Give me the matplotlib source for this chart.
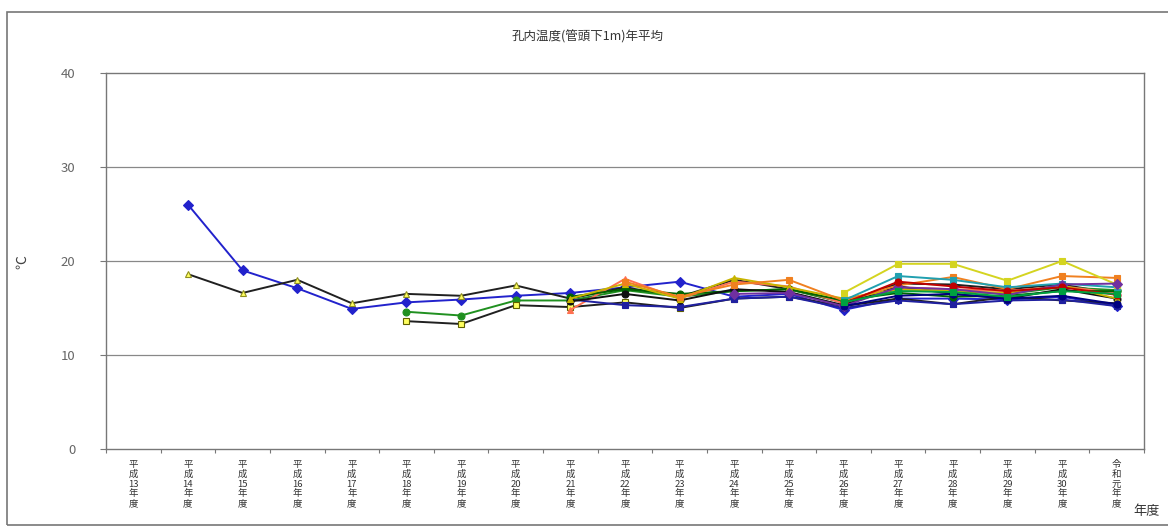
import numpy as np
import matplotlib
matplotlib.use("Agg")
import matplotlib.pyplot as plt
from matplotlib.patches import Rectangle

plt.rcParams['font.family'] = ['Noto Sans CJK JP', 'DejaVu Sans']

nan = np.nan
years = ["平成13年度", "平成14年度", "平成15年度", "平成16年度", "平成17年度",
         "平成18年度", "平成19年度", "平成20年度", "平成21年度", "平成22年度",
         "平成23年度", "平成24年度", "平成25年度", "平成26年度", "平成27年度",
         "平成28年度", "平成29年度", "平成30年度", "令和元年度"]

s01 = [nan, 26.0, 19.0, 17.1, 14.9, 15.6, 15.9, 16.3, 16.6, 17.2, 17.8, 16.2, 16.5, 14.8, 16.0, 16.0, 15.9, 16.2, 15.2]
s02 = [nan, 18.6, 16.6, 18.0, 15.5, 16.5, 16.3, 17.4, 16.0, 17.2, 16.2, 18.0, 17.0, 15.6, 17.6, 17.5, 17.0, 17.5, 16.5]
s03 = [nan, nan, nan, nan, nan, 14.6, 14.2, 15.8, 15.8, 16.9, 16.2, 16.8, 17.0, 15.6, 17.0, 16.8, 16.5, 17.2, 16.9]
s04 = [nan, nan, nan, nan, nan, 13.6, 13.3, 15.3, 15.1, 15.6, 15.0, 16.0, 16.2, 15.2, 16.0, 15.4, 16.2, 15.8, 15.5]
s05 = [nan, nan, nan, nan, nan, nan, nan, nan, 14.8, 18.1, 16.0, 17.8, 17.3, 15.5, 17.2, 17.0, 16.8, 17.3, 16.6]
s06 = [nan, nan, nan, nan, nan, nan, nan, nan, 15.9, 15.3, 15.1, 16.0, 16.2, 15.0, 15.8, 15.4, 15.8, 15.9, 15.2]
s07 = [nan, nan, nan, nan, nan, nan, nan, nan, 16.2, 17.0, 16.5, 16.8, 17.0, 15.8, 16.6, 16.2, 16.3, 16.8, 16.8]
s08 = [nan, nan, nan, nan, nan, nan, nan, nan, 15.7, 16.5, 15.8, 17.0, 16.7, 15.3, 17.3, 16.5, 16.0, 17.0, 16.0]
s09 = [nan, nan, nan, nan, nan, nan, nan, nan, 16.0, 17.6, 16.0, 18.2, 17.2, 16.0, 17.0, 16.8, 16.6, 17.4, 16.0]
s10 = [nan, nan, nan, nan, nan, nan, nan, nan, nan, 17.8, 16.2, 17.5, 18.0, 15.8, 17.4, 18.3, 17.0, 18.4, 18.2]
s11 = [nan, nan, nan, nan, nan, nan, nan, nan, nan, nan, nan, nan, nan, 15.8, 18.4, 18.0, 17.2, 17.6, 17.2]
s12 = [nan, nan, nan, nan, nan, nan, nan, nan, nan, nan, nan, nan, nan, 16.6, 19.7, 19.7, 17.9, 20.0, 17.5]
s13 = [nan, nan, nan, nan, nan, nan, nan, nan, nan, nan, nan, 16.5, 16.6, 15.2, 17.2, 17.0, 16.4, 17.5, 17.6]
s14 = [nan, nan, nan, nan, nan, nan, nan, nan, nan, nan, nan, nan, nan, 15.5, 17.8, 17.3, 16.8, 17.2, 16.4]
s15 = [nan, nan, nan, nan, nan, nan, nan, nan, nan, nan, nan, nan, nan, 15.2, 16.3, 16.5, 16.0, 16.3, 15.4]
s16 = [nan, nan, nan, nan, nan, nan, nan, nan, nan, nan, nan, nan, nan, 15.6, 16.8, 16.7, 16.2, 16.8, 16.5]

series = [
    (s01, '#2222CC', 'D', '#2222CC', '#2222CC'),
    (s02, '#202020', '^', '#FFFF60', '#909020'),
    (s03, '#209020', 'o', '#209020', '#209020'),
    (s04, '#202020', 's', '#FFFF60', '#606000'),
    (s05, '#FF7050', '^', '#FF7050', '#FF7050'),
    (s06, '#2020A0', 's', '#2020A0', '#2020A0'),
    (s07, '#006400', 'o', '#006400', '#006400'),
    (s08, '#101010', 'o', '#101010', '#101010'),
    (s09, '#C8B400', '^', '#C8B400', '#C8B400'),
    (s10, '#F08020', 's', '#F08020', '#F08020'),
    (s11, '#20A0B0', 's', '#20A0B0', '#20A0B0'),
    (s12, '#D4D420', 's', '#D4D420', '#D4D420'),
    (s13, '#7030A0', 'D', '#7030A0', '#7030A0'),
    (s14, '#C00000', 'o', '#C00000', '#C00000'),
    (s15, '#000080', 'o', '#000080', '#000080'),
    (s16, '#00A040', 's', '#00A040', '#00A040'),
]

fig = plt.figure(figsize=(11.68, 5.28), dpi=100)
ax = fig.add_axes([106/1168, 1-449/528, (1144-106)/1168, (449-73)/528])

x = np.arange(len(years))
for vals, lc, mk, mfc, mec in series:
    ax.plot(x, vals, color=lc, lw=1.4, marker=mk, markersize=5,
            markerfacecolor=mfc, markeredgecolor=mec, markeredgewidth=0.8)

ax.set_xlim(-0.5, len(years) - 0.5)
ax.set_ylim(0, 40)
ax.set_yticks([0, 10, 20, 30, 40])
ax.set_yticklabels(['0', '10', '20', '30', '40'], color='#666666', fontsize=9.5)
ax.tick_params(axis='y', length=4, color='#777777', pad=18)
for yv in [10, 20, 30]:
    ax.axhline(yv, color='#888888', lw=0.9, zorder=0)

ax.set_xticks(np.arange(len(years) + 1) - 0.5)
ax.set_xticklabels([])
ax.tick_params(axis='x', which='major', length=3, color='#777777')
ax.set_xticks(x, minor=True)
stacked = []
for y in years:
    if y.startswith('平成'):
        stacked.append('平\n成\n' + y[2:4] + '\n年\n度')
    else:
        stacked.append('\n'.join(list(y)))
ax.set_xticklabels(stacked, minor=True, fontsize=6.8, color='#333333', linespacing=1.1)
ax.tick_params(axis='x', which='minor', length=0, pad=8)

for sp in ax.spines.values():
    sp.set_color('#777777')
    sp.set_linewidth(1.0)

fig.text(588/1168, 1-37/528, '孔内温度(管頭下1m)年平均', ha='center', va='center', fontsize=9, color='#333333')
fig.text(22/1168, 1-262/528, '℃', ha='center', va='center', fontsize=10, rotation=90, color='#444444')
fig.text(1133/1168, 1-511/528, '年度', ha='left', va='center', fontsize=9.5, color='#333333')

fig.patches.append(Rectangle((7/1168, 1-525/528), 1.1, (525-12)/528, transform=fig.transFigure,
                             fill=False, edgecolor='#777777', lw=1.2))

fig.savefig('out.png', dpi=100)
